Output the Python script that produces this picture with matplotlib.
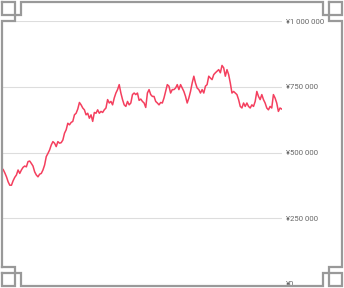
import matplotlib
matplotlib.use("Agg")
import matplotlib.pyplot as plt
from matplotlib.ticker import FuncFormatter

# price history, one reading per step (thousands of yen)
prices = [440, 436, 423, 408, 389, 376, 376, 393, 406, 415,
          434, 421, 434, 444, 449, 446, 466, 468, 459, 449,
          427, 415, 408, 418, 421, 434, 453, 485, 497, 510,
          529, 542, 536, 523, 542, 536, 538, 548, 574, 587,
          612, 606, 615, 619, 644, 650, 666, 691, 682, 670,
          663, 644, 650, 631, 644, 619, 653, 650, 663, 650,
          657, 653, 663, 670, 702, 689, 695, 682, 708, 727,
          740, 759, 727, 702, 682, 676, 695, 682, 689, 721,
          727, 721, 727, 699, 704, 695, 689, 672, 727, 740,
          721, 714, 714, 695, 689, 682, 691, 689, 708, 733,
          759, 753, 727, 740, 740, 746, 759, 740, 759, 746,
          733, 714, 689, 708, 733, 765, 791, 765, 746, 740,
          727, 740, 727, 753, 759, 791, 784, 778, 797, 804,
          810, 816, 804, 832, 823, 791, 816, 797, 765, 727,
          733, 727, 721, 702, 676, 670, 689, 676, 689, 676,
          670, 682, 676, 695, 733, 714, 702, 721, 702, 689,
          670, 663, 676, 670, 721, 708, 689, 657, 670, 666]
prices = [p * 1000 for p in prices]
days = list(range(len(prices)))

ticks = [0, 250000, 500000, 750000, 1000000]

W, H = 344, 288
fig = plt.figure(figsize=(W / 100, H / 100), dpi=100)
fig.patch.set_facecolor("white")

ax = fig.add_axes([1.5 / W, 4 / H, 280.2 / W, 262.7 / H])
ax.plot(days, prices, color="#f43f5e", lw=1.1, zorder=3)
ax.set_xlim(days[0], days[-1])
ax.set_ylim(0, 1000000)
ax.set_yticks(ticks)
ax.yaxis.tick_right()
ax.yaxis.set_major_formatter(FuncFormatter(lambda v, p: "¥" + f"{int(v):,}".replace(",", " ")))
ax.tick_params(axis="y", length=0, pad=3.4, labelsize=5.6, labelcolor="#666666")
for lab in ax.get_yticklabels():
    lab.set_fontfamily("Roboto")
ax.set_xticks([])
ax.grid(axis="y", color="#dddddd", lw=0.8)
for s in ax.spines.values():
    s.set_visible(False)

# decorative frame, pixel coords
fr = fig.add_axes([0, 0, 1, 1])
fr.set_xlim(0, W)
fr.set_ylim(H, 0)
fr.axis("off")
fr.patch.set_alpha(0)
a, b, c = 2, 15, 21
R, B = W - 2, H - 2
px = [a, a, b, b, c, c, W - c, W - c, W - b, W - b, R, R, W - b, W - b, W - c,
      W - c, c, c, b, b, a]
py = [H - c, c, c, b, b, a, a, b, b, c, c, H - c, H - c, H - b, H - b, B, B,
      H - b, H - b, H - c, H - c]
fr.plot(px, py, color="#999999", lw=1.6, solid_joinstyle="miter")
for x0, y0 in [(a, a), (W - b, a), (a, H - b), (W - b, H - b)]:
    fr.plot([x0, x0 + 13, x0 + 13, x0, x0], [y0, y0, y0 + 13, y0 + 13, y0],
            color="#999999", lw=1.6, solid_joinstyle="miter")

fig.savefig("out.png", dpi=100)
